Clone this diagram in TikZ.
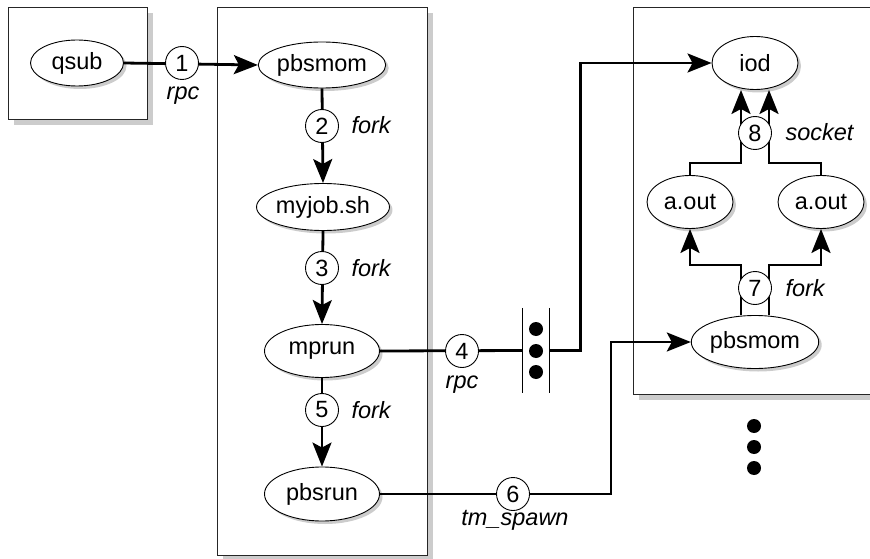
\documentclass[tikz,border=0pt]{standalone}
\usepackage{fontspec}
\setmainfont{Liberation Sans}
\usetikzlibrary{shapes.geometric,shadows,arrows.meta}
\begin{document}
\begin{tikzpicture}[x=1pt,y=-1pt,
  font=\fontsize{23.5}{28}\selectfont,
  proc/.style={ellipse,draw,line width=0.9pt,fill=white,inner sep=0pt,
    drop shadow={shadow xshift=3pt,shadow yshift=-3pt,fill=black,opacity=0.2}},
  num/.style={circle,draw,line width=0.9pt,fill=white,inner sep=0pt,minimum size=33pt},
  lbl/.style={font=\fontsize{23.5}{28}\selectfont\itshape,anchor=base west},
  clbl/.style={font=\fontsize{23.5}{28}\selectfont\itshape,anchor=base},
  conn/.style={line width=2.8pt},
  arr/.style={conn,-{Stealth[length=24pt,width=19pt,inset=5pt]}},
  boxshape/.style={draw=black!85,line width=0.9pt,fill=white},
  boxshadow/.style={fill=black!20,draw=none},
  dotnode/.style={circle,fill=black,inner sep=0pt,minimum size=14pt},
  ]
\useasboundingbox (0,0) rectangle (870,559);

% boxes with shadows
\fill[boxshadow] (14,13) rectangle (153,125);
\draw[boxshape] (8,7) rectangle (147,119);
\fill[boxshadow] (223,13) rectangle (433,561);
\draw[boxshape] (217,7) rectangle (427,555);
\fill[boxshadow] (639,13) rectangle (890,400);
\draw[boxshape] (633,7) rectangle (885,394);

% process nodes
\node[proc,minimum width=93pt,minimum height=46pt] (qsub) at (77,63) {qsub};
\node[proc,minimum width=115pt,minimum height=46pt] (pbsmomA) at (322,65) {pbsmom};
\node[proc,minimum width=113pt,minimum height=47pt] (myjob) at (323,207) {myjob.sh};
\node[proc,minimum width=115pt,minimum height=53pt] (mprun) at (322,351) {mprun};
\node[proc,minimum width=115pt,minimum height=54pt] (pbsrun) at (322,494) {pbsrun};
\node[proc,minimum width=86pt,minimum height=53pt] (iod) at (755,63) {iod};
\node[proc,minimum width=86pt,minimum height=53pt] (aoutL) at (690,202) {a.out};
\node[proc,minimum width=86pt,minimum height=53pt] (aoutR) at (821,202) {a.out};
\node[proc,minimum width=116pt,minimum height=53pt] (pbsmomB) at (755,342) {pbsmom};

% bar with dots
\node[minimum width=26pt,minimum height=85pt,inner sep=0pt] (bar) at (536,350.5) {};
\draw[line width=0.9pt] (bar.north west) -- (bar.south west) (bar.north east) -- (bar.south east);
\node[dotnode] (b1) at (536,329) {};
\node[dotnode] (b2) at (536,351) {};
\node[dotnode] (b3) at (536,372) {};

% connectors
\draw[arr] (qsub.east) -- (pbsmomA.west);
\draw[arr] (pbsmomA.south) -- (myjob.north);
\draw[arr] (myjob.south) -- (mprun.north);
\draw[arr] (mprun.south) -- (pbsrun.north);
\draw[conn] (mprun.east) -- (bar.west);
\draw[arr] (bar.east) -- ++(31,0) |- (iod.west);
\coordinate (k6) at (611,494);
\draw[arr] (pbsrun.east) -- (k6) |- (pbsmomB.west);
\draw[arr] (aoutL.north) -- ++(0,-12) -| ([xshift=-14pt]iod.south);
\draw[arr] (aoutR.north) -- ++(0,-12) -| ([xshift=14pt]iod.south);
\draw[arr] ([xshift=-14pt]pbsmomB.north) -- ++(0,-50) -| (aoutL.south);
\draw[arr] ([xshift=14pt]pbsmomB.north) -- ++(0,-50) -| (aoutR.south);

% numbered circles
\node[num] (c1) at (182,63) {1};
\node[num] (c2) at (322,126) {2};
\node[num] (c3) at (322,268) {3};
\node[num] (c4) at (462,351) {4};
\node[num] (c5) at (322,410) {5};
\node[num] (c6) at (513,494) {6};
\node[num] (c7) at (755,288) {7};
\node[num] (c8) at (755,133) {8};

% labels
\node[clbl] (l1) at (183,100) {rpc};
\node[lbl] (l2) at (348,134) {fork};
\node[lbl] (l3) at (348,276) {fork};
\node[clbl] (l4) at (462,388) {rpc};
\node[lbl] (l5) at (348,418) {fork};
\node[clbl] (l6) at (515,525) {tm\_spawn};
\node[lbl] (l7) at (782,296) {fork};
\node[lbl] (l8) at (782,141) {socket};

% trailing dots
\node[dotnode] (e1) at (754,426) {};
\node[dotnode] (e2) at (754,447) {};
\node[dotnode] (e3) at (754,468) {};
\end{tikzpicture}
\end{document}
